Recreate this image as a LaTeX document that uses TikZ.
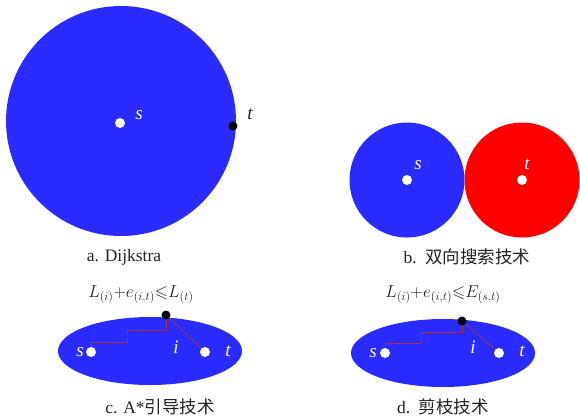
\documentclass[tikz,border=0pt]{standalone}
\usepackage{fontspec}
\setmainfont{Liberation Serif}
\newfontfamily\cjk{Noto Sans CJK SC}
\usepackage{amsmath,amssymb}
\usetikzlibrary{positioning}
\definecolor{sblue}{RGB}{43,43,255}
\definecolor{tred}{RGB}{255,0,0}
\definecolor{ink}{HTML}{222222}
\definecolor{route}{HTML}{B03030}

\begin{document}
\begin{tikzpicture}[x=1pt, y=-1pt,
  font=\fontsize{16}{18}\selectfont, text=ink,
  hole/.style={circle, fill=white, inner sep=0pt, minimum size=10pt},
  goal/.style={circle, fill=black, inner sep=0pt, minimum size=9pt},
  vlabel/.style={font=\fontsize{19}{20}\selectfont\itshape, inner sep=1pt},
  caption/.style={font=\fontsize{17.5}{19}\selectfont},
  formula/.style={font=\fontsize{17}{19}\selectfont, inner sep=1pt},
  path/.style={draw=route, line width=0.7pt}
]
  \useasboundingbox (0,0) rectangle (580,416);
  % a. Dijkstra
  \fill[sblue] (121,121) circle (115);
  \node[hole] (sa) at (120,123) {};
  \node[vlabel, text=white] (sal) at (139,115) {s};
  \node[goal] (ta) at (233,126) {};
  \node[vlabel] (tal) at (250,114) {t};
  \node[caption] (capa) at (124,257) {a. Dijkstra};
  % b. bidirectional
  \fill[sblue] (407,180) circle (57.5);
  \fill[tred] (522,180) circle (57.5);
  \node[hole] (sb) at (407,180) {};
  \node[vlabel, text=white] (sbl) at (418,165) {s};
  \node[hole] (tb) at (522,180) {};
  \node[vlabel, text=white] (tbl) at (527,164) {t};
  \node[caption] (capb) at (467,257) {b.\ \ {\cjk 双向搜索技术}};
  % c. A* guidance
  \fill[sblue] (150,351) ellipse (92 and 34);
  \coordinate (sc0) at (91,352);
  \coordinate (tc0) at (205,352);
  \coordinate (kc0) at (166,315);
  \draw[path] (sc0) -- ++(0,-10) -| (127,330) -| (kc0);
  \draw[path] (kc0) -- (tc0);
  \node[hole] (sc) at (sc0) {};
  \node[vlabel, text=white] (scl) at (80,352) {s};
  \node[hole] (tc) at (tc0) {};
  \node[vlabel, text=white] (tcl) at (228,351) {t};
  \node[vlabel, text=white] (icl) at (176,347) {i};
  \node[goal] (kc) at (kc0) {};
  \node[formula] (fc) at (141,295) {$L_{(i)}{+}e_{(i,t)}{\leqslant}L_{(t)}$};
  \node[caption] (capc) at (160,407) {c. A*{\cjk 引导技术}};
  % d. pruning
  \fill[sblue] (443,353) ellipse (92 and 34);
  \coordinate (sd0) at (385,353);
  \coordinate (td0) at (499,353);
  \coordinate (kd0) at (462,321);
  \draw[path] (sd0) -- ++(0,-10) -| (421,332) -| (kd0);
  \draw[path] (kd0) -- (td0);
  \node[hole] (sd) at (sd0) {};
  \node[vlabel, text=white] (sdl) at (373,353) {s};
  \node[hole] (td) at (td0) {};
  \node[vlabel, text=white] (tdl) at (522,351) {t};
  \node[vlabel, text=white] (idl) at (473,347) {i};
  \node[goal] (kd) at (kd0) {};
  \node[formula] (fd) at (443,295) {$L_{(i)}{+}e_{(i,t)}{\leqslant}E_{(s,t)}$};
  \node[caption] (capd) at (443,407) {d.\ \ {\cjk 剪枝技术}};
\end{tikzpicture}
\end{document}
